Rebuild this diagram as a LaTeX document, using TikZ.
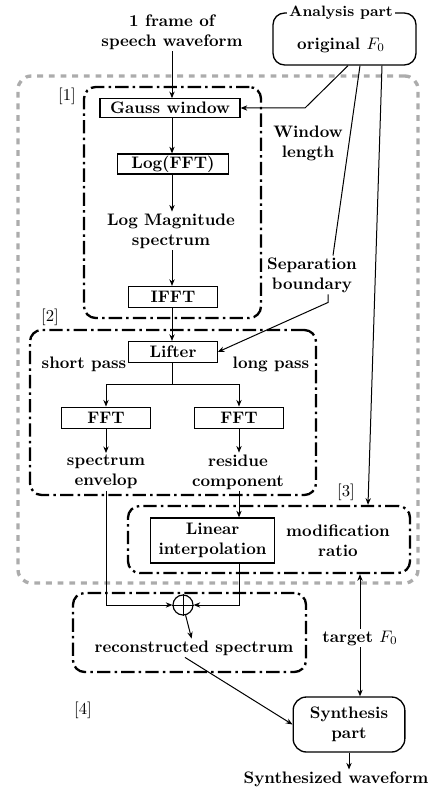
\documentclass[tikz,border=0pt]{standalone}
\usetikzlibrary{arrows.meta,fit,calc}
\begin{document}
\begin{tikzpicture}[x=0.6pt,y=-0.6pt,font=\bfseries,
  box/.style={draw,line width=0.75pt,inner sep=0pt,align=center},
  rbox/.style={draw,line width=0.8pt,rounded corners=6pt,inner sep=0pt,align=center},
  frame/.style={draw,line width=1.4pt,rounded corners=7pt,inner sep=0pt,dash pattern=on 8pt off 2.5pt on 1.5pt off 2.5pt},
  outer/.style={draw=gray!65,line width=2pt,rounded corners=8pt,inner sep=0pt,dash pattern=on 3.5pt off 3.5pt},
  txt/.style={align=center,inner sep=1pt},
  lab/.style={font=\mdseries,inner sep=0pt},
  conn/.style={line width=0.6pt,-{Stealth[length=4pt,width=3.2pt]}},
  ln/.style={line width=0.6pt}]
\useasboundingbox (0,0) rectangle (440,791);
% frames
\node[outer,fit={(18,76) (418,583)}] (outerf) {};
\node[frame,fit={(84,87) (261,318)}] (f1) {};
\node[frame,fit={(30,330) (316,495)}] (f2) {};
\node[frame,fit={(128,506) (410,573)}] (f3) {};
\node[frame,fit={(73,593) (306,672)}] (f4) {};
\node[lab] (l1) at (67,96) {[1]};
\node[lab] (l2) at (50,317) {[2]};
\node[lab] (l3) at (346,492) {[3]};
\node[lab] (l4) at (83,710) {[4]};
% analysis part
\node[rbox,minimum width=85.8pt,minimum height=31.2pt,rounded corners=7pt] (ana) at (344.5,39) {};
\node[fill=white,font=\small\bfseries,inner sep=1pt] (anat) at (341,13) {Analysis part};
\node[txt] (orig) at (341,45) {original $F_0$};
% chain
\node[txt] (src) at (172,32) {1 frame of\\speech waveform};
\node[box,minimum width=84pt,minimum height=11pt] (gauss) at (170,108) {Gauss window};
\node[box,minimum width=67pt,minimum height=12pt] (logfft) at (173,164) {Log(FFT)};
\node[txt] (logmag) at (171,231) {Log Magnitude\\spectrum};
\node[box,minimum width=53pt,minimum height=12.5pt] (ifft) at (173,297) {IFFT};
\node[box,minimum width=53pt,minimum height=12.5pt] (lifter) at (173,352) {Lifter};
\node[txt] (short) at (84,364) {short pass};
\node[txt] (long) at (271,364) {long pass};
\node[box,minimum width=53pt,minimum height=13pt] (fftl) at (106,418) {FFT};
\node[box,minimum width=53pt,minimum height=13pt] (fftr) at (239,418) {FFT};
\node[txt] (env) at (106,472) {spectrum\\envelop};
\node[txt] (res) at (238,472) {residue\\component};
\node[box,minimum width=74pt,minimum height=27pt] (lin) at (212.5,540.5) {Linear\\interpolation};
\node[txt] (mod) at (338,541) {modification\\ratio};
\node[draw,circle,line width=0.7pt,minimum size=12pt,inner sep=0pt] (plus) at (183,605) {};
\node[txt] (recon) at (194,648) {reconstructed spectrum};
\node[txt] (win) at (308,143) {Window\\length};
\node[txt] (sep) at (312,275) {Separation\\boundary};
\node[rbox,minimum width=67pt,minimum height=33pt,rounded corners=8pt] (syn) at (349,724.5) {Synthesis\\part};
\node[txt] (synw) at (336,779) {Synthesized waveform};
\node[txt,fill=white] (tgt) at (360,638) {target $F_0$};
% connectors
\draw[ln] (plus.north) -- (plus.south) (plus.west) -- (plus.east);
\coordinate (cx) at (172,0);
\draw[conn] (src.south -| cx) -- (gauss.north -| cx);
\draw[conn] (gauss.south -| cx) -- (logfft.north -| cx);
\draw[conn] (logfft.south -| cx) -- (logmag.north -| cx);
\draw[conn] (logmag.south -| cx) -- (ifft.north -| cx);
\draw[conn] (ifft.south -| cx) -- (lifter.north -| cx);
\coordinate (split) at (172,384);
\draw[ln] (lifter.south -| cx) -- (split);
\draw[conn] (split) -| (fftl.north);
\draw[conn] (split) -| (fftr.north);
\draw[conn] (fftl) -- (env);
\draw[conn] (fftr.south) -- (res.north -| fftr.south);
\draw[conn] (res.south -| fftr.south) -- (lin.north -| fftr.south);
\draw[conn] (lin.south -| fftr.south) |- (plus.east);
\draw[conn] (env.south) |- (plus.west);
\draw[conn] (plus) -- (recon);
\draw[conn] ($(recon.south)+(-9,0)$) -- (syn.west);
\draw[conn] (syn.south) -- (syn.south |- synw.north);
\draw[conn] (tgt) -- (tgt |- f3.south);
\draw[conn] (tgt) -- (tgt |- syn.north);
\coordinate (bend1) at (305,108);
\draw[conn] ($(ana.south)+(3.5,0)$) -- (bend1) -- (gauss.east);
\draw[ln] ($(ana.south)+(15.5,0)$) -- ($(sep.north)+(21,0)$);
\draw[conn] ($(sep.south)+(16,0)$) -- ++(0,8) -- (lifter.east);
\draw[conn] ($(ana.south)+(37.5,0)$) -- ($(f3.north)+(99,0)$);
\end{tikzpicture}
\end{document}
